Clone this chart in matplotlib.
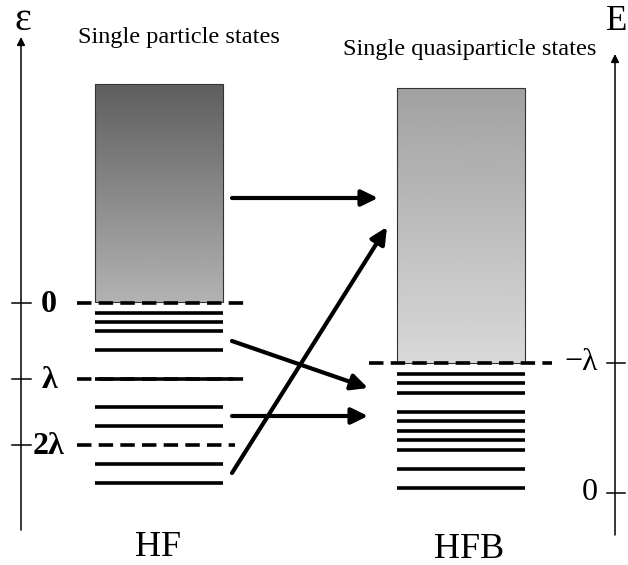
import numpy as np
import matplotlib
matplotlib.use("Agg")
import matplotlib.pyplot as plt

plt.rcParams['font.family'] = ['Liberation Serif', 'DejaVu Serif']

# level positions (in picture units, y grows downward)
hf_levels = [313, 322, 331, 350, 407, 426, 464, 483]
hfb_levels = [374, 383, 393, 412, 421, 431, 440, 450, 469, 488]

hf_ticks = [303, 379, 445]
hf_tick_labels = ["0", "λ", "2λ"]
hfb_ticks = [363, 493]
hfb_tick_labels = ["−λ", "0"]

# arrows: (x0, y0, x1, y1)
arrow_x0 = [232, 232, 232, 232]
arrow_y0 = [198, 341, 416, 473]
arrow_x1 = [378, 368, 368, 387]
arrow_y1 = [198, 388, 416, 227]

fig = plt.figure(figsize=(6.28, 5.65), dpi=100)
ax = fig.add_axes([0, 0, 1, 1])
ax.set_xlim(0, 628)
ax.set_ylim(565, 0)
ax.axis("off")

lw_level = 2.6

# HF continuum box with gradient
grad = np.linspace(0, 1, 256).reshape(-1, 1)
hf_box = (95, 223, 84, 302)
ax.imshow(0.37 + 0.33 * grad, cmap="gray", vmin=0, vmax=1, aspect="auto",
          extent=(hf_box[0], hf_box[1], hf_box[3], hf_box[2]), zorder=1)
ax.add_patch(plt.Rectangle((hf_box[0], hf_box[2]), hf_box[1] - hf_box[0],
                           hf_box[3] - hf_box[2], fill=False, ec="#333333", lw=0.8, zorder=2))

hfb_box = (397, 525, 88, 363)
ax.imshow(0.63 + 0.22 * grad, cmap="gray", vmin=0, vmax=1, aspect="auto",
          extent=(hfb_box[0], hfb_box[1], hfb_box[3], hfb_box[2]), zorder=1)
ax.add_patch(plt.Rectangle((hfb_box[0], hfb_box[2]), hfb_box[1] - hfb_box[0],
                           hfb_box[3] - hfb_box[2], fill=False, ec="#333333", lw=0.8, zorder=2))

# levels
for y in hf_levels:
    ax.plot([95, 223], [y, y], color="black", lw=lw_level, solid_capstyle="butt")
for y in hfb_levels:
    ax.plot([397, 525], [y, y], color="black", lw=lw_level, solid_capstyle="butt")

# reference lines
dash = (4, 2)
ax.plot([77, 250], [303, 303], color="black", lw=lw_level, dashes=dash, zorder=3)
ax.plot([77, 250], [379, 379], color="black", lw=lw_level, dashes=dash)
ax.plot([95, 233], [379, 379], color="black", lw=lw_level, solid_capstyle="butt")
ax.plot([77, 235], [445, 445], color="black", lw=lw_level, dashes=dash)
ax.plot([369, 552], [363, 363], color="black", lw=lw_level, dashes=dash, zorder=3)

# axes
ax.annotate("", xy=(21, 37), xytext=(21, 530),
            arrowprops=dict(arrowstyle="-|>", lw=1.1, color="black",
                            mutation_scale=12, shrinkA=0, shrinkB=0))
ax.annotate("", xy=(615, 54), xytext=(615, 535),
            arrowprops=dict(arrowstyle="-|>", lw=1.1, color="black",
                            mutation_scale=12, shrinkA=0, shrinkB=0))
ax.text(23, 20, "ε", fontsize=29, ha="center", va="center")
ax.text(617, 22, "E", fontsize=25, ha="center", va="center")

for y, lab in zip(hf_ticks, hf_tick_labels):
    ax.plot([12, 31], [y, y], color="black", lw=1.1)
    ax.text(49, y + 1, lab, fontsize=23, fontweight="bold", ha="center", va="center")
for y, lab in zip(hfb_ticks, hfb_tick_labels):
    ax.plot([607, 625], [y, y], color="black", lw=1.1)
    ax.text(598, y, lab, fontsize=23, ha="right", va="center")

# transitions
for x0, y0, x1, y1 in zip(arrow_x0, arrow_y0, arrow_x1, arrow_y1):
    ax.annotate("", xy=(x1, y1), xytext=(x0, y0),
                arrowprops=dict(arrowstyle="-|>,head_length=0.45,head_width=0.22", lw=3,
                                color="black", mutation_scale=22, shrinkA=0, shrinkB=0))

ax.text(179, 38, "Single particle states", fontsize=17.5, ha="center", va="center")
ax.text(470, 50, "Single quasiparticle states", fontsize=17.5, ha="center", va="center")
ax.text(158, 548, "HF", fontsize=26, ha="center", va="center")
ax.text(469, 550, "HFB", fontsize=26, ha="center", va="center")

fig.savefig("out.png", dpi=100)
